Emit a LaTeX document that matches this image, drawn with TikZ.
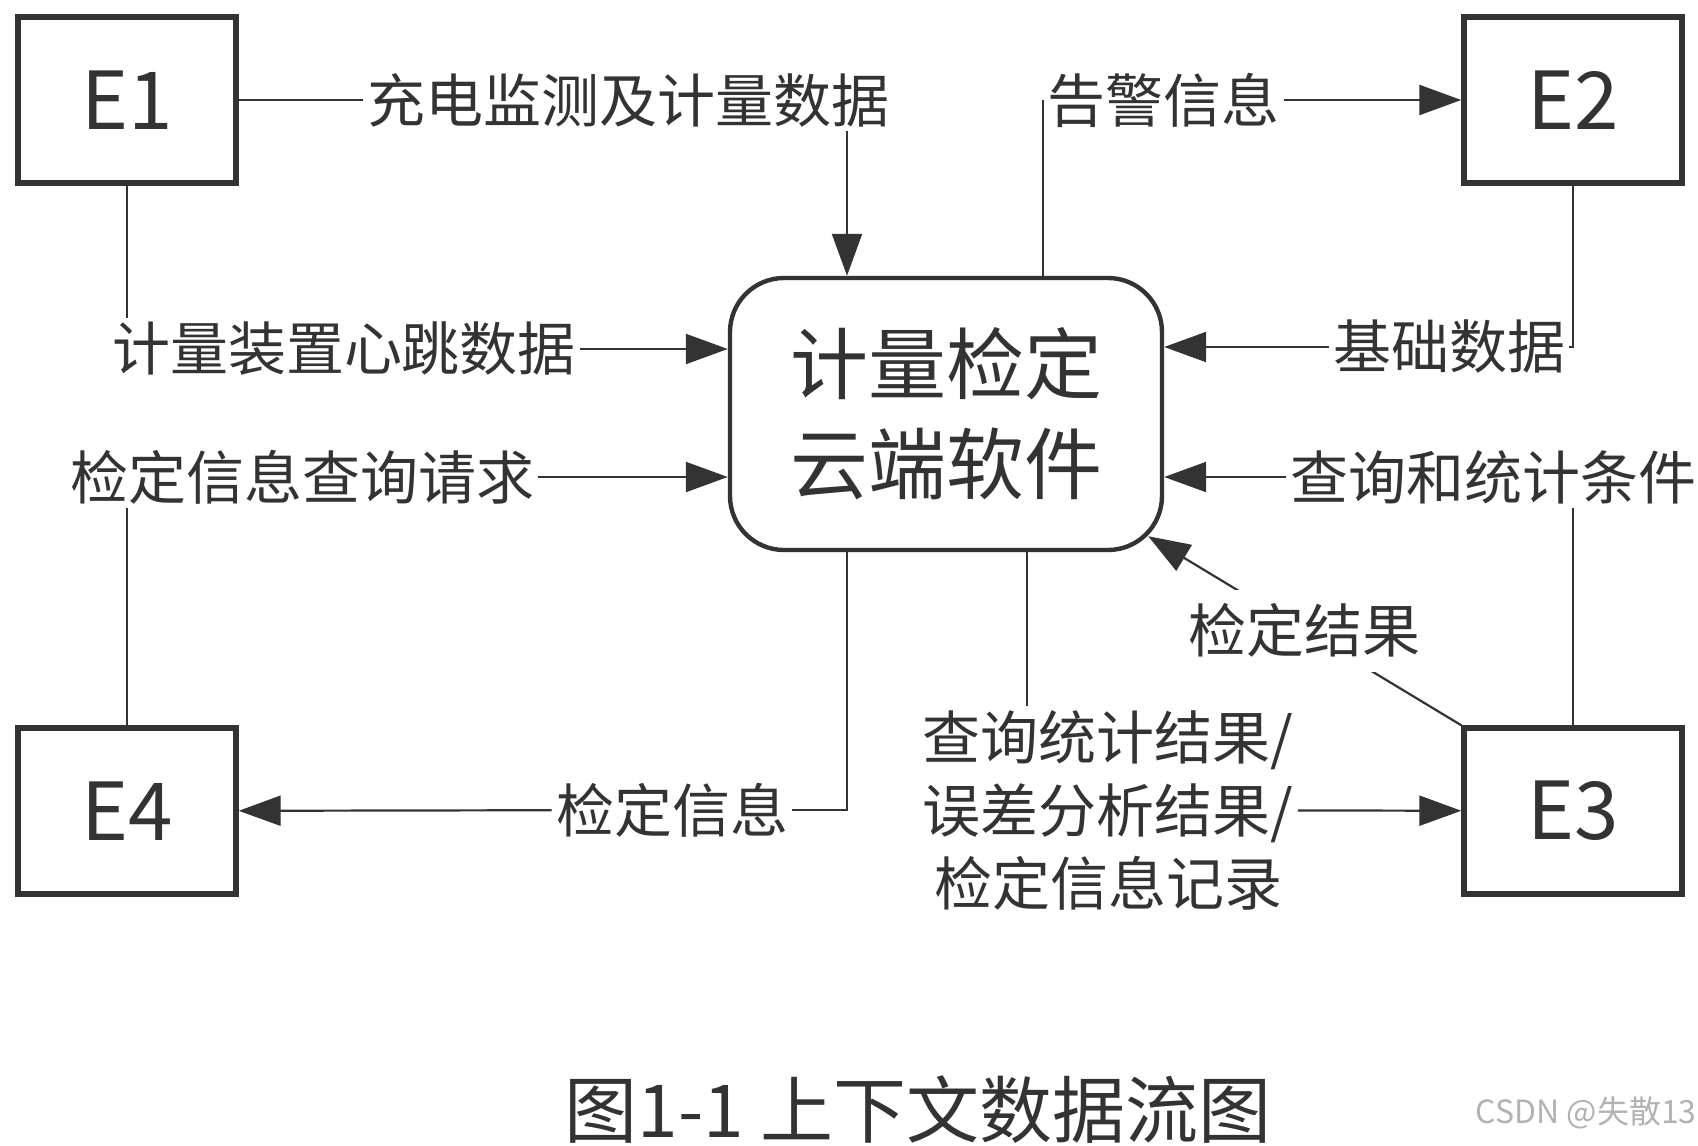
\documentclass[tikz,border=0pt]{standalone}
\usepackage{fontspec}
\setmainfont{Noto Sans CJK SC}
\usetikzlibrary{arrows.meta}

\definecolor{ink}{HTML}{333333}

\tikzset{
  ent/.style={draw=ink, line width=2.7pt, minimum width=109pt, minimum height=83pt,
    text=ink, font=\fontsize{40}{40}\selectfont},
  proc/.style={draw=ink, line width=2.2pt, rounded corners=27pt, minimum width=216pt,
    minimum height=136pt, align=center, text=ink, font=\fontsize{39}{50}\selectfont},
  lbl/.style={text=ink, inner sep=2pt, font=\fontsize{29}{36.5}\selectfont},
  flow/.style={draw=ink, line width=1.1pt}
}

\begin{document}
\begin{tikzpicture}[x=0.5pt, y=-0.5pt, >={Triangle[length=21pt,width=15pt]}]
    \useasboundingbox (0,0) rectangle (1698,1146);

    %% external entities and process
    \node[ent] (E1) at (127,100) {E1};
    \node[ent] (E2) at (1573,100) {E2};
    \node[ent] (E3) at (1573,811) {E3};
    \node[ent] (E4) at (127,811) {E4};
    \node[proc] (c) at (946,414) {计量检定\\云端软件};

    %% columns where flows leave / enter the process
    \coordinate (xa) at (847,0);
    \coordinate (xb) at (1043,0);
    \coordinate (xc) at (1027,0);
    \coordinate (ck) at ([shift={(-16,-16)}]c.south east);

    %% flow labels
    \node[lbl] (l1) at (628,100) {充电监测及计量数据};
    \node[lbl, anchor=west] (l2) at (1043,100) {告警信息};
    \node[lbl] (l3) at (1449,347) {基础数据};
    \node[lbl] (l4) at (1493,477) {查询和统计条件};
    \node[lbl, align=center] (l6) at (1108,810) {查询统计结果/\\误差分析结果/\\检定信息记录};
    \node[lbl] (l7) at (672,810) {检定信息};
    \node[lbl] (l8) at (344,349) {计量装置心跳数据};
    \node[lbl] (l9) at (302,477) {检定信息查询请求};

    %% E1 -> process
    \draw[flow] (E1) -- (l1);
    \draw[flow, ->] (l1.south -| xa) -- (c.north -| xa);
    \draw[flow] (E1) -- (E1 |- l8.north);
    \draw[flow, ->] (l8) -- (c.west |- l8);

    %% process <-> E2
    \draw[flow] (c.north -| xb) -- (l2.west);
    \draw[flow, ->] (l2) -- (E2);
    \draw[flow] (E2) |- (l3);
    \draw[flow, ->] (l3) -- (c.east |- l3);

    %% process <-> E3
    \draw[flow] (E3) -- (E3 |- l4.south);
    \draw[flow, ->] (l4) -- (c.east |- l4);
    \draw[flow, ->] (E3.north west) -- node[lbl, fill=white, inner sep=7pt] (l5) {检定结果} (ck);
    \draw[flow] (c.south -| xc) -- (l6.north -| xc);
    \draw[flow, ->] (l6) -- (E3);

    %% process <-> E4
    \draw[flow] (c.south -| xa) |- (l7);
    \draw[flow, ->] (l7) -- (E4);
    \draw[flow] (E4) -- (E4 |- l9.south);
    \draw[flow, ->] (l9) -- (c.west |- l9);

    %% caption
    \node[text=ink, font=\fontsize{36.5}{36.5}\selectfont] (cap) at (918,1110) {图1-1 上下文数据流图};
    \node[text=black!30, anchor=east, inner sep=0pt, font=\fontsize{16}{16}\selectfont] (wm) at (1697,1113) {CSDN @失散13};
\end{tikzpicture}
\end{document}
